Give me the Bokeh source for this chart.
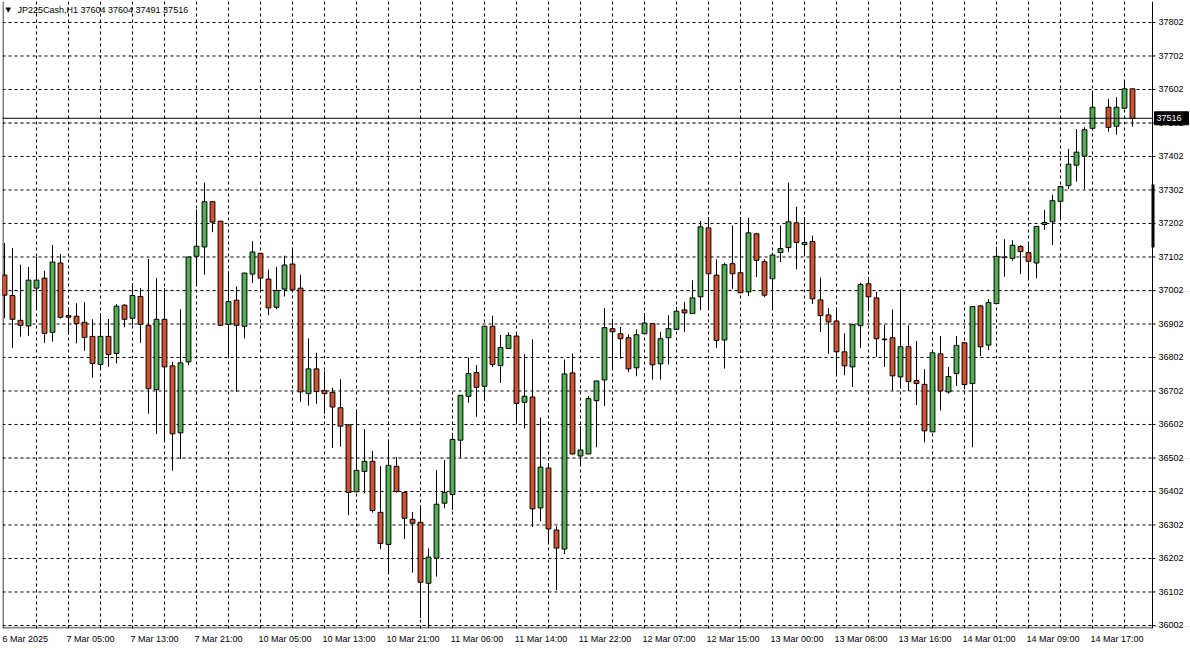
import numpy as np
from bokeh.plotting import figure
from bokeh.models import ColumnDataSource, FixedTicker, Grid, Label, Range1d
from bokeh.core.properties import value
from bokeh.embed import file_html
from bokeh.resources import INLINE

# ---------------- data (H1 bars, one slot per hour; slot 137 has no bar) ----------------
symbol = "JP225Cash,H1"
open_ = [37048, 36987, 36913, 36896, 37009, 37039, 36877, 37084, 36927, 36925,
         36907, 36865, 36781, 36865, 36814, 36958, 36919, 36984, 36898, 36706,
         36916, 36777, 36577, 36789, 37104, 37132, 37267, 37209, 36901, 36973,
         36895, 37051, 37113, 37036, 36952, 37006, 37081, 37009, 36694, 36768,
         36703, 36698, 36652, 36601, 36401, 36462, 36492, 36340, 36244, 36477,
         36399, 36319, 36310, 36128, 36203, 36367, 36393, 36555, 36686, 36757,
         36716, 36895, 36778, 36829, 36866, 36668, 36684, 36353, 36472, 36287,
         36230, 36756, 36508, 36514, 36673, 36735, 36888, 36873, 36861, 36771,
         36873, 36903, 36783, 36861, 36886, 36944, 36933, 36983, 37189, 37048,
         36854, 37082, 37055, 36998, 37171, 37088, 37037, 37115, 37130, 37204,
         37139, 37148, 36974, 36929, 36911, 36819, 36774, 36897, 37022, 36980,
         36857, 36861, 36744, 36834, 36733, 36722, 36580, 36813, 36699, 36754,
         36846, 36724, 36956, 36839, 36963, 37100, 37098, 37133, 37115, 37084,
         37199, 37207, 37268, 37315, 37376, 37403, 37486, None, 37549, 37492,
         37546, 37604]
high = [37144, 37129, 37079, 37072, 37102, 37061, 37138, 37111, 36952, 36964,
        36967, 36916, 36934, 36917, 36961, 36961, 37024, 37009, 37096, 37039,
        37009, 36789, 36946, 37102, 37244, 37324, 37267, 37209, 37059, 37014,
        37054, 37149, 37114, 37064, 37072, 37106, 37122, 37049, 36859, 36816,
        36761, 36712, 36737, 36601, 36647, 36588, 36523, 36478, 36557, 36505,
        36402, 36341, 36360, 36232, 36466, 36496, 36577, 36689, 36802, 36779,
        36895, 36927, 36869, 36877, 36873, 36812, 36856, 36623, 36487, 36298,
        36796, 36814, 36597, 36687, 36732, 36950, 36918, 36893, 36871, 36886,
        36935, 36903, 36879, 36928, 36953, 36968, 37032, 37209, 37221, 37095,
        37085, 37196, 37221, 37219, 37174, 37095, 37115, 37196, 37324, 37252,
        37221, 37166, 37040, 36950, 36952, 36874, 36903, 37025, 37043, 36998,
        36900, 36945, 37005, 36898, 36851, 36767, 36816, 36866, 36774, 36866,
        36848, 36956, 36958, 36976, 37133, 37155, 37152, 37137, 37140, 37195,
        37242, 37288, 37315, 37425, 37484, 37489, 37599, None, 37574, 37579,
        37630, 37604]
low = [36919, 36831, 36864, 36867, 36944, 36846, 36849, 36918, 36869, 36844,
       36822, 36742, 36766, 36774, 36784, 36892, 36899, 36846, 36634, 36574,
       36552, 36464, 36499, 36779, 37019, 37049, 37176, 36898, 36804, 36699,
       36859, 37024, 37004, 36928, 36946, 36984, 37004, 36669, 36658, 36664,
       36634, 36532, 36536, 36331, 36401, 36396, 36339, 36230, 36158, 36398,
       36260, 36160, 36024, 35995, 36148, 36352, 36347, 36503, 36667, 36625,
       36673, 36774, 36726, 36829, 36605, 36590, 36296, 36313, 36248, 36107,
       36215, 36512, 36479, 36514, 36534, 36657, 36771, 36798, 36758, 36746,
       36873, 36736, 36736, 36781, 36886, 36878, 36933, 36943, 36947, 36831,
       36769, 37007, 36995, 36985, 37042, 36982, 36947, 37087, 37117, 37065,
       37110, 36962, 36878, 36813, 36749, 36749, 36714, 36831, 36940, 36804,
       36774, 36704, 36711, 36702, 36660, 36549, 36579, 36644, 36694, 36717,
       36707, 36534, 36806, 36824, 36963, 37043, 37091, 37051, 37038, 37038,
       37183, 37138, 37217, 37305, 37327, 37305, 37486, None, 37476, 37467,
       37546, 37491]
close = [36988, 36916, 36898, 37033, 37033, 36874, 37087, 36922, 36922, 36903,
         36862, 36784, 36865, 36811, 36955, 36916, 36987, 36901, 36709, 36916,
         36774, 36574, 36786, 37102, 37134, 37267, 37206, 36898, 36969, 36898,
         37054, 37117, 37039, 36950, 37002, 37078, 37004, 36699, 36768, 36700,
         36694, 36654, 36597, 36399, 36465, 36492, 36345, 36247, 36480, 36402,
         36322, 36307, 36131, 36206, 36364, 36399, 36557, 36689, 36754, 36713,
         36895, 36781, 36832, 36868, 36665, 36686, 36350, 36475, 36290, 36233,
         36753, 36514, 36526, 36679, 36732, 36891, 36879, 36858, 36768, 36870,
         36905, 36780, 36858, 36888, 36940, 36935, 36980, 37192, 37052, 36853,
         37079, 37052, 36995, 37174, 37092, 36988, 37108, 37127, 37207, 37145,
         37145, 36977, 36927, 36908, 36819, 36777, 36900, 37020, 36983, 36858,
         36855, 36747, 36834, 36730, 36724, 36583, 36816, 36702, 36745, 36838,
         36721, 36954, 36834, 36966, 37104, 37102, 37137, 37118, 37089, 37193,
         37205, 37270, 37312, 37379, 37415, 37482, 37549, None, 37489, 37549,
         37604, 37516]

time_labels = ["6 Mar 2025", "7 Mar 05:00", "7 Mar 13:00", "7 Mar 21:00",
               "10 Mar 05:00", "10 Mar 13:00", "10 Mar 21:00", "11 Mar 06:00",
               "11 Mar 14:00", "11 Mar 22:00", "12 Mar 07:00", "12 Mar 15:00",
               "13 Mar 00:00", "13 Mar 08:00", "13 Mar 16:00", "14 Mar 01:00",
               "14 Mar 09:00", "14 Mar 17:00"]
label_every = 8
price_ticks = list(range(36002, 37803, 100))
last_o, last_h, last_l, last_c = 37604, 37604, 37491, 37516
scroll_marker = (37130, 37318)   # price span of the dark marker on the price scale

# ---------------- styling / layout ----------------
BULL = "#4CAF50"
BEAR = "#D2522C"
FONT = "Liberation Sans"
FS = "9px"

W, H = 1190, 648
BL, BT, BB = 2, 1, 20
FRAME_W, FRAME_H = W - BL, H - BT - BB
PT_PER_PX = 2.985
px_per_bar = 8.0
x0 = -0.25
x1 = x0 + FRAME_W / px_per_bar           # frame also hosts the price scale
xb = x0 + 1150 / px_per_bar              # chart border (price scale starts here)
y0 = 35993
y1 = y0 + FRAME_H * PT_PER_PX
PX = 1 / px_per_bar                      # one pixel in x data units

n = len(open_)
slots = np.arange(n)
valid = np.array([v is not None for v in open_])


def arr(vals):
    return np.array([v if v is not None else np.nan for v in vals], dtype=float)[valid]


o, h, l, c = arr(open_), arr(high), arr(low), arr(close)
xs = slots[valid]
up = c >= o
src = ColumnDataSource(dict(
    x=xs, o=o, h=h, l=l, c=c,
    top=np.maximum(o, c), bottom=np.minimum(o, c),
    color=[BULL if u else BEAR for u in up],
))

p = figure(width=W, height=H, output_backend="svg", toolbar_location=None,
           x_range=Range1d(x0, x1), y_range=Range1d(y0, y1),
           y_axis_location=None, min_border_left=BL, min_border_top=BT,
           min_border_right=0, min_border_bottom=BB,
           background_fill_color="white", border_fill_color="white")
p.outline_line_color = None

# grids
p.xgrid.visible = False
vgrid = Grid(dimension=0, ticker=FixedTicker(ticks=list(range(4, 144, 4))),
             grid_line_color="black", grid_line_dash="3 3", grid_line_width=1)
p.add_layout(vgrid)
p.segment(x0=[x0] * len(price_ticks), y0=price_ticks, x1=[xb] * len(price_ticks),
          y1=price_ticks, line_color="black", line_width=1, line_dash="3 3")

# chart borders (left, bottom, right)
p.segment(x0=[x0 + 0.5 * PX, x0, xb], y0=[y0, y0 + 0.5 * PT_PER_PX, y0],
          x1=[x0 + 0.5 * PX, xb, xb], y1=[y1, y0 + 0.5 * PT_PER_PX, y1],
          line_color="black", line_width=1)

# candles
p.segment(x0="x", y0="l", x1="x", y1="h", source=src, line_color="black", line_width=1)
p.vbar(x="x", top="top", bottom="bottom", width=0.6, source=src,
       fill_color="color", line_color="black", line_width=1)

# current price line
p.segment(x0=[x0], y0=[last_c], x1=[xb], y1=[last_c], line_color="black", line_width=1)

# price scale: ticks + labels
p.segment(x0=[xb] * len(price_ticks), y0=price_ticks, x1=[xb + 3 * PX] * len(price_ticks),
          y1=price_ticks, line_color="black", line_width=1)
p.text(x=[xb + 6 * PX] * len(price_ticks), y=price_ticks, text=[str(t) for t in price_ticks],
       text_align="left", text_baseline="middle", text_font=value(FONT),
       text_font_size=value(FS), text_color="black")

# dark marker on the scale border
p.segment(x0=[xb + 0.5 * PX], y0=[scroll_marker[0]], x1=[xb + 0.5 * PX], y1=[scroll_marker[1]],
          line_color="black", line_width=3)

# last price box on the scale
p.quad(left=[xb + 2 * PX], right=[xb + 36 * PX],
       top=[last_c + 6.5 * PT_PER_PX], bottom=[last_c - 6.5 * PT_PER_PX],
       fill_color="black", line_color="black")
p.text(x=[xb + 4 * PX], y=[last_c], text=[str(last_c)], text_align="left",
       text_baseline="middle", text_font=value(FONT), text_font_size=value(FS),
       text_color="white")

# x axis (below): labels start at their bar, so shift each tick by half its width
cw = {d: 0.556 for d in "0123456789"}
cw.update({" ": 0.278, ":": 0.278, "M": 0.833, "a": 0.556, "r": 0.333})
fs_px = float(FS.replace("px", ""))
centers, overrides = [], {}
for k, lab in enumerate(time_labels):
    wpx = sum(cw.get(ch, 0.55) for ch in lab) * fs_px
    cpos = round(k * label_every + (wpx / 2 - 2) / px_per_bar, 3)
    centers.append(cpos)
    overrides[cpos] = lab
xa = p.xaxis[0]
xa.ticker = FixedTicker(ticks=centers)
xa.major_label_overrides = overrides
xa.major_tick_out = 0
xa.major_tick_in = 0
xa.minor_tick_out = 0
xa.minor_tick_in = 0
xa.major_label_standoff = 5
xa.axis_line_color = None
xa.major_label_text_font = FONT
xa.major_label_text_font_size = FS
xa.major_label_text_color = "black"

# header
p.add_layout(Label(x=x0, y=y1, text="\u25BC", x_offset=3, y_offset=-4,
                   text_align="left", text_baseline="top",
                   text_font="DejaVu Sans", text_font_size="7px", text_color="black"))
p.add_layout(Label(x=x0, y=y1, text=f"{symbol}  {last_o} {last_h} {last_l} {last_c}",
                   x_offset=15, y_offset=-3, text_align="left", text_baseline="top",
                   text_font=FONT, text_font_size=FS, text_color="black"))

open("out.html", "w").write(file_html(p, INLINE))
